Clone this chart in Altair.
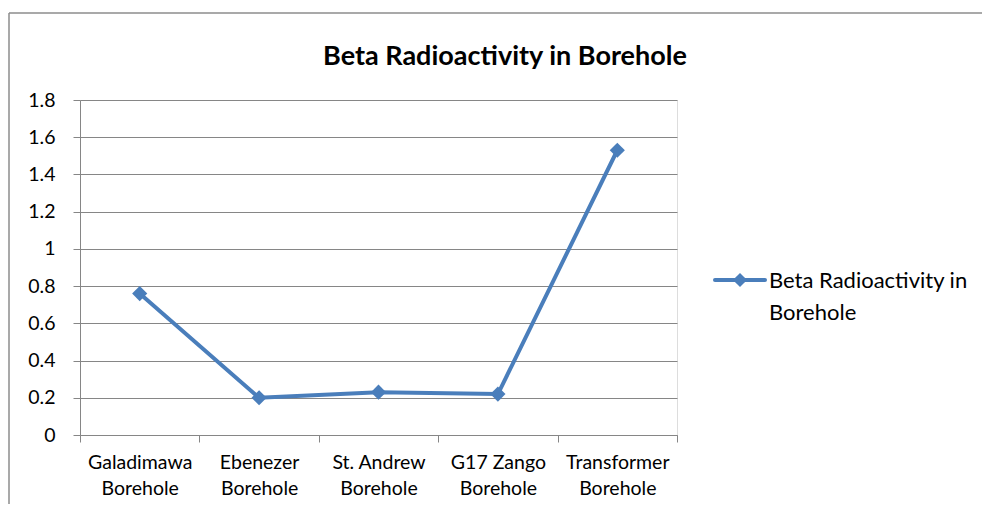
import altair as alt
import pandas as pd

categories = ["Galadimawa Borehole", "Ebenezer Borehole", "St. Andrew Borehole",
              "G17 Zango Borehole", "Transformer Borehole"]
values = [0.76, 0.20, 0.23, 0.22, 1.53]
series_name = "Beta Radioactivity in Borehole"
y_ticks = [0, 0.2, 0.4, 0.6, 0.8, 1.0, 1.2, 1.4, 1.6, 1.8]

df = pd.DataFrame({"cat": categories, "val": values})

FONT = "Lato"
BLUE = "#4A7EBB"
GRID = "#868686"

x_enc = alt.X("cat:N", sort=categories, title=None,
              scale=alt.Scale(paddingInner=0, paddingOuter=0),
              axis=alt.Axis(labelAngle=0, tickBand="extent", tickSize=7,
                            labelPadding=11, labelFontSize=19.5, labelFont=FONT,
                            labelColor="#000", domainColor=GRID, tickColor=GRID,
                            labelLineHeight=26, labelFlush=False, labelOverlap=False,
                            labelBound=False, labelLimit=300,
                            labelExpr="datum.label ? [replace(datum.label, ' Borehole', ''), 'Borehole'] : ''"))
y_enc = alt.Y("val:Q", title=None,
              scale=alt.Scale(domain=[0, 1.8], nice=False, zero=True),
              axis=alt.Axis(values=y_ticks, tickSize=7, labelPadding=18,
                            labelFontSize=19.5, labelFont=FONT, labelColor="#000",
                            domainColor=GRID, tickColor=GRID, gridColor=GRID,
                            grid=True, labelOverlap=False, labelFlush=False,
                            labelExpr="format(datum.value, '~g')"))

base = alt.Chart(df).encode(x=x_enc, y=y_enc)
line = base.mark_line(color=BLUE, strokeWidth=4)
pts = base.mark_point(shape="diamond", filled=True, size=230, color=BLUE, opacity=1)

title_df = pd.DataFrame({"t": [series_name]})
title = alt.Chart(title_df).mark_text(font=FONT, fontSize=27, fontWeight="bold",
                                      color="#000", align="center", baseline="middle").encode(
    text="t:N", x=alt.value(425), y=alt.value(-43))

# manual legend
leg_df = pd.DataFrame({"l1": ["Beta Radioactivity in"], "l2": ["Borehole"]})
leg_line = alt.Chart(leg_df).mark_rule(color=BLUE, strokeWidth=4, strokeCap="round").encode(
    x=alt.value(635), x2=alt.value(685), y=alt.value(180))
leg_pt = alt.Chart(leg_df).mark_point(shape="diamond", filled=True, size=200, color=BLUE,
                                      opacity=1).encode(x=alt.value(660), y=alt.value(180))
leg_t1 = alt.Chart(leg_df).mark_text(font=FONT, fontSize=22, align="left", baseline="middle",
                                     color="#000").encode(text="l1:N", x=alt.value(689), y=alt.value(181))
leg_t2 = alt.Chart(leg_df).mark_text(font=FONT, fontSize=22, align="left", baseline="middle",
                                     color="#000").encode(text="l2:N", x=alt.value(689), y=alt.value(213))

# outer chart border (decoration)
border_top = alt.Chart(leg_df).mark_rule(color="#8C8C8C", strokeWidth=1.5).encode(
    x=alt.value(-71), x2=alt.value(920), y=alt.value(-87))
border_left = alt.Chart(leg_df).mark_rule(color="#8C8C8C", strokeWidth=1.5).encode(
    x=alt.value(-71), y=alt.value(-87), y2=alt.value(420))

chart = alt.layer(line, pts, title, leg_line, leg_pt, leg_t1, leg_t2, border_top, border_left).properties(
    width=597, height=335,
    autosize=alt.AutoSizeParams(type="none"),
    padding={"left": 72, "top": 92, "right": 305, "bottom": 69},
).configure_view(stroke=None).configure(background="white")

chart.save("out.html", embed_options={"renderer": "svg", "actions": False})
